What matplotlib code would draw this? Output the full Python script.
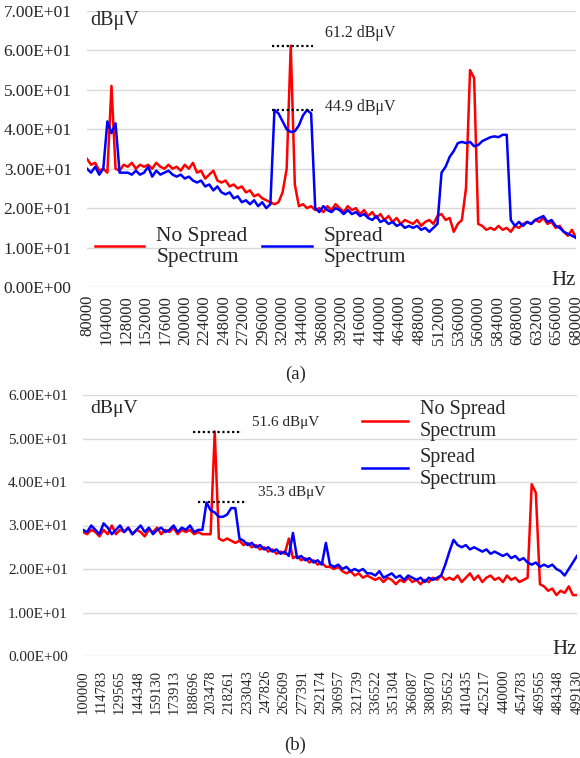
import numpy as np
import matplotlib
matplotlib.use("Agg")
import matplotlib.pyplot as plt
from matplotlib.ticker import FuncFormatter

plt.rcParams["font.family"] = ["Liberation Serif", "DejaVu Serif"]

# (a) 80 kHz - 680 kHz sweep, 5 kHz step
freq_a = np.arange(80000, 680001, 5000)
no_spread_a = [32.5, 31, 31.5, 29.5, 30, 29, 51, 30, 29.5, 31,
               30.5, 31.5, 30, 31, 30.5, 31, 30, 31.5, 30.5, 30,
               31, 30, 30.5, 29.5, 31, 30, 31.5, 29, 29.5, 27.5,
               28.5, 29.5, 27, 26.5, 27, 25.5, 26, 25, 25.5, 24,
               24.5, 23, 23.5, 22.5, 22, 21.5, 21, 21.5, 24, 30,
               61.2, 26, 20.5, 21, 20, 20.5, 19.5, 20, 19, 20.5,
               19.5, 21, 20, 19, 20.5, 19.5, 20, 18.5, 19.5, 18,
               19, 17.5, 18.5, 17, 18, 16.5, 17.5, 16, 17, 16.5,
               16, 17, 15.5, 16.5, 17, 16, 18, 18.5, 17, 17.5,
               14, 16, 17, 25, 55, 53, 16, 15.5, 14.5, 15,
               14.5, 15.5, 14.5, 15, 14, 15.5, 15, 16, 16.5, 16,
               17, 16.5, 17.5, 16, 16.5, 15, 15.5, 14, 13, 14.5,
               12.5]
spread_a = [30, 29, 30.5, 28.5, 30, 42, 39, 41.5, 29, 29,
            29, 28.5, 29.5, 28.5, 29, 30.5, 28, 29.5, 28.5, 29,
            29.5, 28.5, 28, 28.5, 27.5, 28, 27, 26.5, 27, 25.5,
            26, 24.5, 25.5, 24, 23.5, 24, 22.5, 23, 21.5, 22,
            21, 22, 20.5, 21.5, 20, 21, 44.9, 44, 42, 40,
            39.3, 39.5, 41, 43.5, 44.9, 44, 20, 19, 20.5, 19.5,
            19, 20, 19.5, 18.5, 19.5, 18.5, 19, 18, 18.5, 17.5,
            17, 18, 16.5, 17, 16, 16.5, 15.5, 16, 15, 15.5,
            15, 15.5, 14.5, 15, 14, 15, 16, 29, 30.5, 33,
            34.5, 36.5, 36.8, 36.5, 36.8, 35.7, 36, 37, 37.5, 38,
            38.2, 38, 38.6, 38.6, 17, 15.5, 16.5, 15.5, 16.5, 16,
            17, 17.5, 18, 16.5, 17, 15.5, 15, 14, 13.5, 13,
            12.5]
ticks_a = [80000, 104000, 128000, 152000, 176000, 200000, 224000, 248000,
           272000, 296000, 320000, 344000, 368000, 392000, 416000, 440000,
           464000, 488000, 512000, 536000, 560000, 584000, 608000, 632000,
           656000, 680000]

# (b) 100 kHz - 499.13 kHz sweep
freq_b = np.linspace(100000, 499130, 121)
no_spread_b = [28.5, 28, 29, 28.5, 27.5, 29, 28, 30, 28, 29,
               28.5, 29.5, 28, 29, 28.5, 27.5, 29, 28.5, 29.5, 28,
               29, 28.5, 29.5, 28, 29, 28.5, 29, 28, 28.5, 28,
               28, 28, 51.6, 27, 26.5, 27, 26.5, 26, 26.5, 25.5,
               26, 25, 25.5, 24.5, 25, 24, 24.5, 23.5, 24, 23.5,
               27, 22.5, 23, 22, 22.5, 21.5, 22, 21, 21.5, 20.5,
               20.5, 20, 20.5, 19.5, 19, 19.5, 18.5, 19, 18, 18.5,
               18, 17.5, 18, 17, 18, 17.5, 16.5, 17.5, 17, 18,
               17, 17.5, 16.5, 17.5, 17, 18, 17.5, 18.5, 17.5, 18,
               17.5, 18.5, 17, 18, 19, 17.5, 18.5, 17, 18, 18.5,
               17.5, 18, 17, 18.5, 17.5, 18, 17, 17.5, 18, 39.5,
               37.5, 16.5, 16, 15, 15.5, 14, 15, 14.5, 16, 14,
               14]
spread_b = [29, 28.5, 30, 29, 28, 30.5, 29.5, 28, 29, 30,
            28.5, 29.5, 28, 29, 30, 28.5, 29.5, 28, 29, 29.5,
            28.5, 29, 30, 28.5, 29.5, 29, 30, 28.5, 29, 29,
            35.3, 33.5, 33, 32, 32, 32.5, 34, 34, 27, 26.5,
            25.5, 26, 25, 25.5, 24.5, 25, 24, 24.5, 23.5, 24,
            23, 28.3, 22.5, 23, 22, 22.5, 21.5, 22, 21, 26,
            21, 20.5, 21, 20, 20.5, 19.5, 20, 19.5, 20, 19,
            19, 18.5, 19.5, 18, 18.5, 19, 18, 18.5, 17.5, 18.5,
            18, 17.5, 18, 17, 18, 17.5, 18, 18.5, 21, 24,
            26.7, 25.5, 25, 25.5, 24.5, 25, 24.5, 24, 24.5, 23.5,
            24, 23.5, 23, 23.5, 22.5, 23, 22, 22.5, 21.5, 21,
            21.5, 20.5, 21, 20.5, 21, 20, 19.5, 18.5, 20, 21.5,
            23]
ticks_b = [100000, 114783, 129565, 144348, 159130, 173913, 188696, 203478,
           218261, 233043, 247826, 262609, 277391, 292174, 306957, 321739,
           336522, 351304, 366087, 380870, 395652, 410435, 425217, 440000,
           454783, 469565, 484348, 499130]

RED = "#ff0000"
BLUE = "#0000ff"
TXT = "#262626"

fig = plt.figure(figsize=(5.8, 7.58), dpi=100)
ax1 = fig.add_axes([87 / 580, (758 - 287) / 758, 489 / 580, 276 / 758])
ax2 = fig.add_axes([83 / 580, (758 - 656) / 758, 494 / 580, 261 / 758])


def style(ax, ymax, ticks, xlim, ysize, xsize, xpad):
    for s in ax.spines.values():
        s.set_visible(False)
    ax.set_ylim(0, ymax)
    ax.set_yticks(np.arange(0, ymax + 1, 10))
    ax.yaxis.set_major_formatter(FuncFormatter(lambda v, p: f"{v:.2E}"))
    ax.set_xlim(*xlim)
    ax.set_xticks(ticks)
    ax.set_xticklabels([str(t) for t in ticks], rotation=90, fontsize=xsize, color=TXT)
    ax.tick_params(axis="y", length=0, pad=11, labelsize=ysize, labelcolor=TXT)
    ax.tick_params(axis="x", length=0, pad=xpad)
    ax.grid(axis="y", color="#d9d9d9", lw=1)
    ax.set_axisbelow(True)


# ---- (a)
l1, = ax1.plot(freq_a, no_spread_a, color=RED, lw=1.8)
l2, = ax1.plot(freq_a, spread_a, color=BLUE, lw=1.8)
style(ax1, 70, ticks_a, (80000, 680000), 12.5, 12, 5.8)
ax1.hlines([61.2, 44.9], 307000, 357000, colors="black", lw=1.6, linestyles=(0, (1, 1.2)))
ax1.text(372000, 64.5, "61.2 dBμV", fontsize=11.5, va="center", color=TXT)
ax1.text(372000, 45.6, "44.9 dBμV", fontsize=11.5, va="center", color=TXT)
ax1.text(83700, 67.5, "dBμV", fontsize=14.5, va="center", color=TXT)
ax1.text(680000, 0.5, "Hz", fontsize=15, ha="right", va="baseline", color=TXT)
ax1.legend([l1, l2], ["No Spread\nSpectrum", "Spread\nSpectrum"], ncol=2,
           loc="center left", bbox_to_anchor=(0.016, 0.145), frameon=False,
           fontsize=15.5, handlelength=2.3, handletextpad=0.55, columnspacing=0.7,
           borderpad=0, borderaxespad=0, labelcolor=TXT)

# ---- (b)
l3, = ax2.plot(freq_b, no_spread_b, color=RED, lw=1.8)
l4, = ax2.plot(freq_b, spread_b, color=BLUE, lw=1.8)
style(ax2, 60, ticks_b, (100000, 499130), 11, 10.5, 10)
ax2.hlines(51.6, 188900, 228500, colors="black", lw=1.6, linestyles=(0, (1, 1.2)))
ax2.hlines(35.3, 192900, 232500, colors="black", lw=1.6, linestyles=(0, (1, 1.2)))
ax2.text(236500, 53.6, "51.6 dBμV", fontsize=11, va="center", color=TXT)
ax2.text(241400, 37.7, "35.3 dBμV", fontsize=11, va="center", color=TXT)
ax2.text(105700, 56.8, "dBμV", fontsize=14, va="center", color=TXT)
ax2.text(499130, 0.5, "Hz", fontsize=15, ha="right", va="baseline", color=TXT)
ax2.legend([l3, l4], ["No Spread\nSpectrum", "Spread\nSpectrum"], ncol=1,
           loc="center left", bbox_to_anchor=(0.565, 0.81), frameon=False,
           fontsize=14.5, handlelength=2.3, handletextpad=0.55, labelspacing=0.35,
           borderpad=0, borderaxespad=0, labelcolor=TXT)

fig.text(296 / 580, 1 - 374 / 758, "(a)", fontsize=13.5, ha="center", va="center", color=TXT)
fig.text(295 / 580, 1 - 745 / 758, "(b)", fontsize=13.5, ha="center", va="center", color=TXT)

fig.savefig("out.png", dpi=100)
